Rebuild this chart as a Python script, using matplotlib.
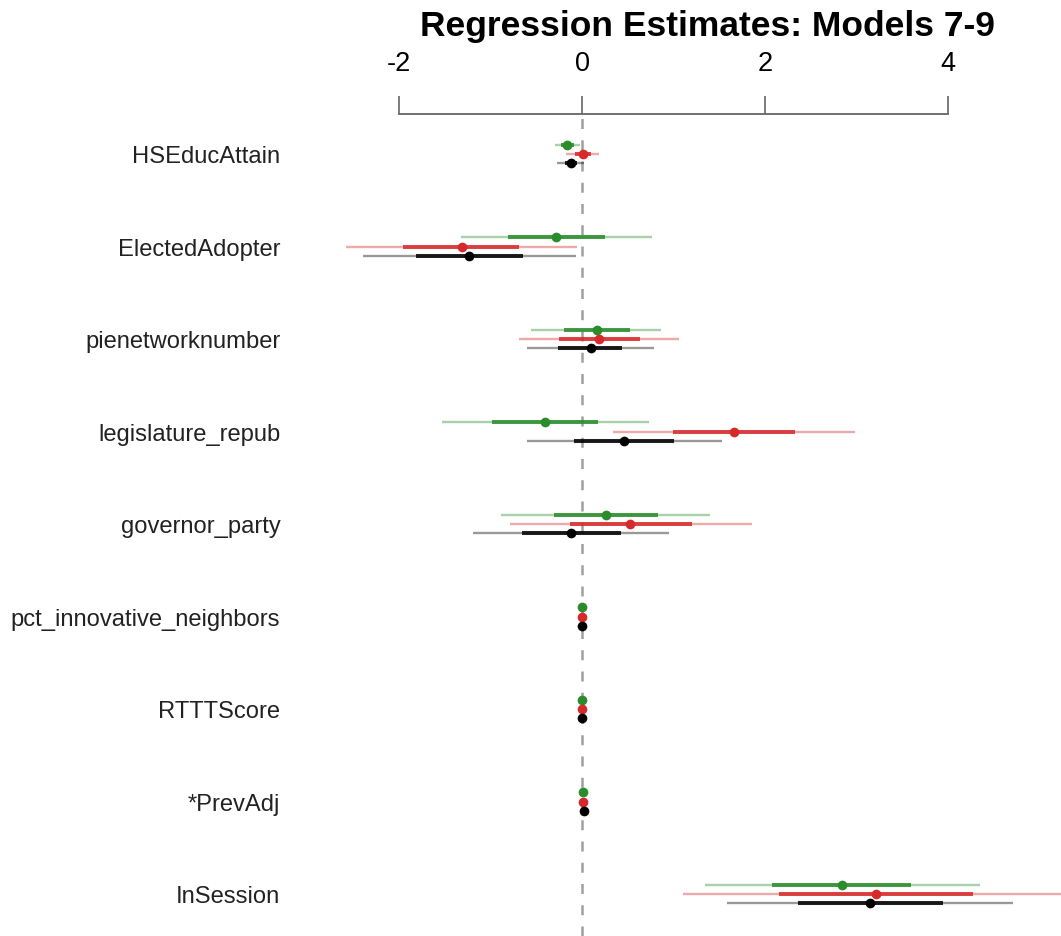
import matplotlib
matplotlib.use("Agg")
import matplotlib.pyplot as plt

plt.rcParams['font.family'] = ['Liberation Sans', 'DejaVu Sans']

# Coefficient names, top to bottom
variables = ["HSEducAttain", "ElectedAdopter", "pienetworknumber", "legislature_repub",
             "governor_party", "pct_innovative_neighbors", "RTTTScore", "*PrevAdj", "InSession"]

models = ["Model 7", "Model 8", "Model 9"]
model_colors = ["#2A8C2A", "#D62A2A", "#000000"]

# Point estimates per model
est = {
    "Model 7": [-0.16, -0.28, 0.16, -0.40, 0.26, 0.00, 0.00, 0.015, 2.84],
    "Model 8": [0.015, -1.31, 0.19, 1.66, 0.53, 0.00, 0.00, 0.01, 3.21],
    "Model 9": [-0.12, -1.23, 0.095, 0.46, -0.12, 0.00, 0.00, 0.025, 3.15],
}
# Inner (thick) interval bounds
inner_lo = {
    "Model 7": [-0.23, -0.81, -0.20, -0.98, -0.31, -0.01, -0.01, 0.005, 2.08],
    "Model 8": [-0.08, -1.96, -0.25, 0.99, -0.13, -0.01, -0.01, 0.00, 2.15],
    "Model 9": [-0.19, -1.81, -0.26, -0.09, -0.66, -0.01, -0.01, 0.015, 2.36],
}
inner_hi = {
    "Model 7": [-0.09, 0.25, 0.52, 0.17, 0.83, 0.01, 0.01, 0.025, 3.60],
    "Model 8": [0.10, -0.69, 0.63, 2.33, 1.20, 0.01, 0.01, 0.02, 4.27],
    "Model 9": [-0.05, -0.64, 0.44, 1.00, 0.43, 0.01, 0.01, 0.035, 3.94],
}
# Outer (thin) interval bounds
outer_lo = {
    "Model 7": [-0.30, -1.32, -0.56, -1.53, -0.88, -0.02, -0.02, -0.005, 1.34],
    "Model 8": [-0.17, -2.58, -0.69, 0.34, -0.79, -0.02, -0.02, -0.01, 1.10],
    "Model 9": [-0.27, -2.39, -0.60, -0.60, -1.19, -0.02, -0.02, 0.005, 1.59],
}
outer_hi = {
    "Model 7": [-0.02, 0.76, 0.86, 0.73, 1.40, 0.02, 0.02, 0.035, 4.35],
    "Model 8": [0.19, -0.06, 1.06, 2.98, 1.86, 0.02, 0.02, 0.03, 5.32],
    "Model 9": [0.02, -0.07, 0.79, 1.53, 0.95, 0.02, 0.02, 0.045, 4.71],
}

offsets = [-0.1, 0.0, 0.1]

W, H = 1061, 937
fig = plt.figure(figsize=(W / 100, H / 100), dpi=100)

# axes in pixel terms
left_px, right_px, top_px, bottom_px = 290, 1061, 115, 937
ax = fig.add_axes([left_px / W, 1 - bottom_px / H, (right_px - left_px) / W, (bottom_px - top_px) / H])

x0_px, px_per_unit = 582, 91.5
ax.set_xlim((left_px - x0_px) / px_per_unit, (right_px - x0_px) / px_per_unit)
row0_px, row_step = 155, 92.5
ax.set_ylim((bottom_px - row0_px) / row_step, (top_px - row0_px) / row_step)

# zero reference line
ax.axvline(0, color="#A0A0A0", lw=1.8, ls=(0, (4, 4.5)), zorder=1)

for m, col, off in zip(models, model_colors, offsets):
    for i in range(len(variables)):
        y = i + off
        ax.plot([outer_lo[m][i], outer_hi[m][i]], [y, y], color=col, lw=1.7, alpha=0.4,
                solid_capstyle="butt", zorder=2)
        ax.plot([inner_lo[m][i], inner_hi[m][i]], [y, y], color=col, lw=2.9, alpha=0.85,
                solid_capstyle="butt", zorder=3)
        ax.plot(est[m][i], y, "o", color=col, ms=7.0, mec="none", zorder=4)

# variable labels
ax.set_yticks(range(len(variables)))
ax.set_yticklabels(variables, fontsize=17.1, color="#222222")
ax.tick_params(axis="y", length=0, pad=7)

# top axis only between -2 and 4
for s in ["left", "right", "bottom"]:
    ax.spines[s].set_visible(False)
ax.spines["top"].set_bounds(-2, 4)
ax.spines["top"].set_color("#666666")
ax.spines["top"].set_linewidth(1.3)
ax.xaxis.tick_top()
ax.set_xticks([-2, 0, 2, 4])
ax.set_xticklabels(["-2", "0", "2", "4"], fontsize=19.5)
ax.tick_params(axis="x", direction="out", length=13, width=1.2, color="#666666", pad=14)

fig.text(707 / W, 1 - 36 / H, "Regression Estimates: Models 7-9", ha="center", va="baseline",
         fontsize=25.5, fontweight="bold")

fig.savefig("out.png", dpi=100)
